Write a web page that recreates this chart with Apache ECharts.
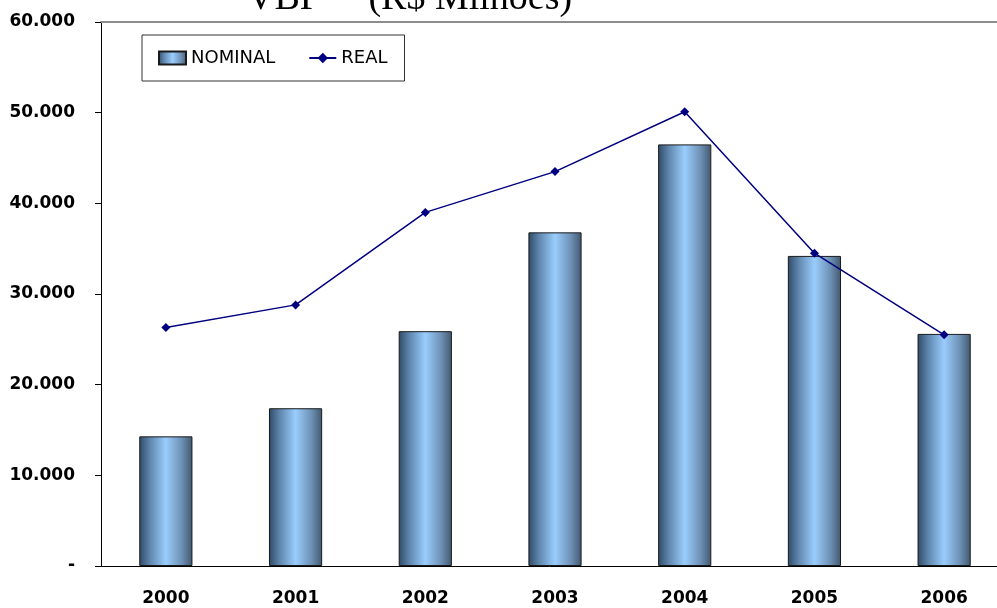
<!DOCTYPE html>
<html>
<head>
<meta charset="utf-8">
<script src="https://cdn.jsdelivr.net/npm/echarts@6/dist/echarts.min.js"></script>
<style>
  html, body { margin: 0; padding: 0; background: #fff; }
  #app { width: 997px; height: 608px; }
</style>
</head>
<body>
<div id="app"></div>
<script>
// dados do gráfico
const anos = ['2000', '2001', '2002', '2003', '2004', '2005', '2006'];
const nominal = [14300, 17400, 25900, 36800, 46500, 34200, 25600];
const real = [26300, 28800, 39000, 43500, 50100, 34500, 25500];
const yTicks = { min: 0, max: 60000, step: 10000 };

function fmtMil(v) {
  if (v === 0) return '-';
  return String(v).replace(/\B(?=(\d{3})+(?!\d))/g, '.');
}

const barColor = new echarts.graphic.LinearGradient(0, 0, 1, 0, [
  { offset: 0, color: '#2f4a66' },
  { offset: 0.2, color: '#5f86ad' },
  { offset: 0.5, color: '#9acdfd' },
  { offset: 0.8, color: '#6d90b4' },
  { offset: 1, color: '#41586f' }
]);

const chart = echarts.init(document.getElementById('app'));
chart.setOption({
  animation: false,
  title: {
    text: 'VBP     (R$ Milhões)',
    left: 247,
    top: -20,
    padding: 0,
    textStyle: { fontFamily: 'Liberation Serif', fontSize: 38, fontWeight: 'normal', color: '#000' }
  },
  legend: {
    left: 142,
    top: 35,
    padding: [14, 17, 14, 16],
    borderColor: '#333',
    borderWidth: 1,
    itemWidth: 27,
    itemHeight: 13,
    itemGap: 33,
    textStyle: { fontFamily: 'DejaVu Sans', fontSize: 18, color: '#000' },
    data: [
      { name: 'NOMINAL', icon: 'rect' },
      { name: 'REAL' }
    ]
  },
  // o eixo passa da borda direita, como no original
  grid: { left: 101, right: -12, top: 22, bottom: 42, outerBoundsMode: 'none' },
  xAxis: [
    {
      type: 'category',
      data: anos,
      boundaryGap: true,
      axisLine: { lineStyle: { color: '#000', width: 1 } },
      axisTick: { length: 8, lineStyle: { color: '#000' } },
      axisLabel: {
        margin: 24,
        color: '#000',
        fontFamily: 'DejaVu Sans',
        fontWeight: 'bold',
        fontSize: 17
      }
    },
    {
      type: 'category',
      position: 'top',
      data: anos,
      axisLine: { lineStyle: { color: '#8c8c8c', width: 2 } },
      axisTick: { show: false },
      axisLabel: { show: false }
    }
  ],
  yAxis: {
    type: 'value',
    min: yTicks.min,
    max: yTicks.max,
    interval: yTicks.step,
    splitLine: { show: false },
    axisLine: { show: true, lineStyle: { color: '#000', width: 1 } },
    axisTick: { show: true, length: 6, lineStyle: { color: '#000' } },
    axisLabel: {
      margin: 26,
      color: '#000',
      fontFamily: 'DejaVu Sans',
      fontWeight: 'bold',
      fontSize: 17,
      formatter: fmtMil
    }
  },
  series: [
    {
      name: 'NOMINAL',
      type: 'bar',
      data: nominal,
      barWidth: '41%',
      itemStyle: { color: barColor, borderColor: '#1a1a1a', borderWidth: 1 }
    },
    {
      name: 'REAL',
      type: 'line',
      data: real,
      symbol: 'diamond',
      symbolSize: 9,
      lineStyle: { color: '#000080', width: 1.5 },
      itemStyle: { color: '#000080' }
    }
  ]
});
</script>
</body>
</html>
